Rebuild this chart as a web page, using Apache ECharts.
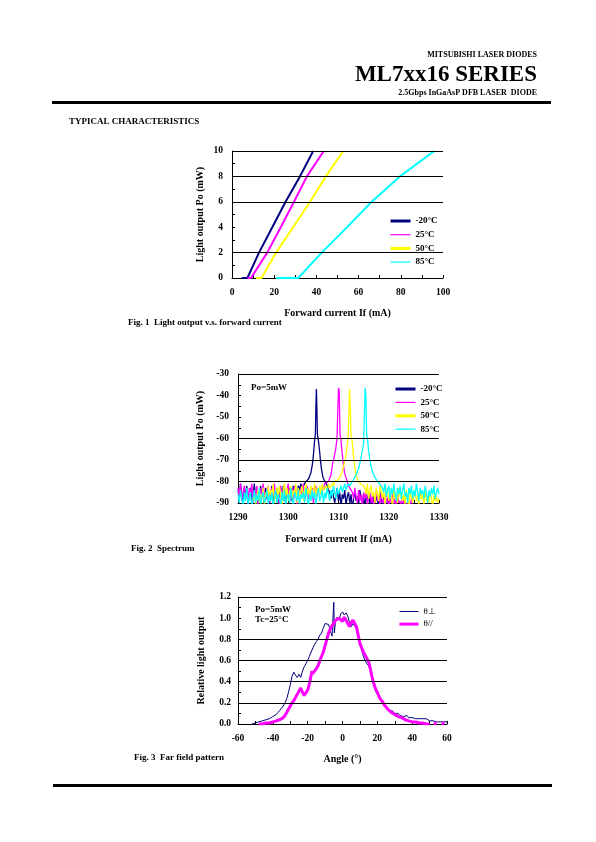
<!DOCTYPE html>
<html><head><meta charset="utf-8">
<script src="https://cdn.jsdelivr.net/npm/echarts@6/dist/echarts.min.js"></script>
<style>html,body{margin:0;padding:0;background:#fff}#c{width:596px;height:842px}</style>
</head><body><div id="c"></div>
<script>
// ---------- Fig. 1 : Light output vs forward current ----------
const tempNames = ['-20°C', '25°C', '50°C', '85°C'];
const tempColors = ['#000080', '#ff00ff', '#ffff00', '#00ffff'];
const fig1XTicks = [0, 100, 20];
const fig1YTicks = [0, 10, 2];
const fig1Grid = [2, 6, 8, 10];
const li_m20 = [[4.6,0],[7.3,0],[12.8,2],[19.1,4],[25.4,6],[32.2,8],[38.5,10]];
const li_25  = [[7.3,0],[9.0,0],[16.7,2],[23.1,4],[29.4,6],[35.5,8],[43.5,10]];
const li_50  = [[11.4,0],[14.0,0],[20.9,2],[29.0,4],[37.0,6],[44.5,8],[52.7,10]];
const li_85  = [[20.9,0],[31.4,0],[42.5,2],[54.5,4],[66.2,6],[79.6,8],[95.9,10]];

// ---------- Fig. 2 : Spectrum ----------
const fig2XTicks = [1290, 1330, 10];
const fig2YTicks = [-90, -30, 10];
const fig2Grid = [-30, -60, -70, -80];
const NOISE_STEP = 0.25;
// -20°C
const sp_m20_startL = 1290;
const sp_m20_noiseL = [-84,-88,-81,-86,-90,-83,-87,-82,-92,-85,-83,-89,-86,-81,-88,-84,-93,-86,-82,-87,-85,-90,-83,-88,-84,-91,-86,-82,-89,-85,-87,-83,-90,-84,-86,-88,-82,-85,-91,-84,-87,-83,-86,-89,-82,-85,-84,-88,-82,-84,-81,-83,-82,-81];
const sp_m20_peak = [[1303.5,-80],[1304,-79],[1304.5,-76],[1304.8,-72],[1305,-68],[1305.2,-62],[1305.4,-58],[1305.5,-45],[1305.6,-37],[1305.7,-46],[1305.8,-58],[1306,-61],[1306.2,-65],[1306.4,-70],[1306.6,-74],[1306.9,-78],[1307.3,-80],[1307.8,-82],[1308,-84]];
const sp_m20_startR = 1308.25;
const sp_m20_noiseR = [-85,-88,-84,-87,-90,-86,-83,-89,-85,-92,-86,-88,-84,-91,-87,-85,-90,-86,-93,-88,-85,-89,-87,-91,-84,-88,-90,-86,-92,-87,-89,-85,-91,-88,-94,-86,-90,-87,-89,-92,-85,-88,-91,-87,-90,-93,-88,-90];
// 25°C
const sp_25_startL = 1290;
const sp_25_noiseL = [-83,-87,-81,-89,-85,-82,-88,-84,-91,-83,-86,-81,-90,-84,-87,-82,-92,-85,-83,-88,-81,-86,-89,-84,-82,-90,-85,-83,-87,-81,-88,-84,-86,-91,-82,-85,-89,-83,-87,-84,-81,-90,-86,-83,-88,-82,-85,-92,-84,-87,-83,-86,-81,-89,-85,-82,-88,-84,-86,-83,-90,-85,-82,-87,-84,-83,-86,-82,-84,-81];
const sp_25_peak = [[1307.5,-81],[1308,-80],[1308.5,-77],[1308.8,-72],[1309.2,-68],[1309.5,-64],[1309.7,-60],[1309.85,-48],[1310,-36.5],[1310.15,-38],[1310.3,-58],[1310.5,-61],[1310.7,-66],[1310.9,-71],[1311.2,-76],[1311.6,-79],[1312,-82],[1312.5,-84]];
const sp_25_startR = 1312.75;
const sp_25_noiseR = [-85,-88,-83,-87,-90,-84,-89,-86,-92,-85,-88,-84,-91,-87,-85,-90,-86,-93,-88,-84,-89,-87,-91,-85,-90,-88,-94,-86,-89,-92,-87,-90,-85,-91,-88,-93,-86,-90,-89,-92,-87,-91,-88,-94,-90,-89,-92,-88,-91,-93];
// 50°C
const sp_50_startL = 1293;
const sp_50_noiseL = [-89,-85,-91,-87,-84,-90,-86,-88,-83,-92,-85,-87,-82,-89,-84,-86,-81,-90,-85,-83,-88,-82,-86,-91,-84,-81,-87,-83,-89,-85,-82,-88,-84,-86,-81,-90,-83,-87,-85,-82,-89,-84,-81,-86,-83,-88,-82,-85,-84,-81,-87,-83,-85,-82,-86,-81,-84,-83,-82,-85,-81,-83,-82,-81,-82,-80];
const sp_50_peak = [[1309.5,-80],[1310,-79],[1310.5,-77],[1311,-73],[1311.4,-69],[1311.7,-64],[1311.9,-60],[1312.05,-50],[1312.2,-37],[1312.35,-45],[1312.5,-59],[1312.7,-61],[1312.9,-66],[1313.1,-71],[1313.4,-76],[1313.8,-79],[1314.3,-81],[1315,-82]];
const sp_50_startR = 1315.25;
const sp_50_noiseR = [-83,-86,-81,-88,-84,-82,-87,-85,-90,-83,-86,-89,-82,-85,-88,-84,-91,-86,-83,-89,-85,-87,-92,-84,-88,-86,-90,-83,-87,-85,-89,-86,-91,-84,-88,-93,-85,-87,-90,-86,-84,-89,-87,-92,-85,-88,-86,-91,-84,-89,-87,-90,-85,-88,-92,-86,-89,-87,-90,-88];
// 85°C
const sp_85_startL = 1290;
const sp_85_noiseL = [-86,-90,-84,-88,-92,-85,-89,-83,-91,-87,-85,-93,-88,-84,-90,-86,-89,-83,-92,-87,-85,-90,-88,-84,-91,-86,-89,-85,-93,-87,-84,-90,-86,-88,-92,-85,-89,-84,-91,-87,-86,-90,-83,-88,-92,-85,-87,-89,-84,-91,-86,-88,-85,-90,-83,-87,-92,-86,-89,-84,-88,-85,-91,-86,-83,-89,-87,-84,-90,-85,-88,-83,-86,-89,-84,-87,-82,-85,-88,-83,-86,-84,-82,-85,-83,-81,-84,-82,-81,-82];
const sp_85_peak = [[1312.5,-81],[1313,-79],[1313.5,-77],[1314,-74],[1314.4,-70],[1314.8,-65],[1315,-62],[1315.15,-50],[1315.3,-36.5],[1315.45,-40],[1315.6,-58],[1315.8,-61],[1316,-66],[1316.3,-71],[1316.7,-75],[1317.2,-78],[1317.8,-80],[1318.5,-82]];
const sp_85_startR = 1318.75;
const sp_85_noiseR = [-83,-85,-81,-87,-84,-82,-88,-83,-86,-81,-85,-89,-83,-86,-82,-88,-84,-81,-87,-85,-90,-83,-86,-82,-88,-84,-87,-81,-85,-89,-83,-86,-84,-88,-82,-85,-90,-84,-87,-83,-86,-82,-88,-85,-83,-86];

// ---------- Fig. 3 : Far field pattern ----------
const ffNames = ['θ⊥', 'θ//'];
const fig3XTicks = [-60, 60, 20];
const fig3YTicks = [0, 1.2, 0.2];
const fig3Grid = [0.2, 0.4, 0.6, 0.8, 1.2];
const ff_perp = [[-52,0],[-51,0],[-50,0.01],[-49,0.01],[-48,0.02],[-47,0.02],[-46,0.03],[-45,0.03],[-44,0.04],[-43,0.04],[-42,0.05],[-41,0.06],[-40,0.07],[-39,0.08],[-38,0.09],[-37,0.11],[-36,0.13],[-35,0.15],[-34,0.17],[-33,0.2],[-32,0.24],[-31,0.3],[-30,0.37],[-29,0.45],[-28,0.49],[-27,0.46],[-26,0.44],[-25,0.47],[-24,0.44],[-23,0.5],[-22,0.54],[-21,0.57],[-20,0.6],[-19,0.64],[-18,0.68],[-17,0.72],[-16,0.75],[-15,0.78],[-14,0.8],[-13,0.84],[-12,0.86],[-11,0.91],[-10,0.95],[-9,0.95],[-8,0.94],[-7,0.88],[-6,0.83],[-5.3,0.84],[-5,1.15],[-4.7,0.86],[-4,0.98],[-3,1.01],[-2,0.99],[-1,1.04],[0,1.06],[1,1.03],[2,1.05],[3,1.02],[4,0.96],[5,0.92],[6,0.95],[7,0.96],[8,0.9],[9,0.84],[10,0.78],[11,0.7],[12,0.64],[13,0.6],[14,0.57],[15,0.55],[16,0.5],[17,0.44],[18,0.37],[19,0.31],[20,0.28],[21,0.25],[22,0.22],[23,0.2],[24,0.18],[25,0.15],[26,0.16],[27,0.13],[28,0.12],[29,0.12],[30,0.1],[31,0.09],[32,0.1],[33,0.08],[34,0.07],[35,0.07],[36,0.06],[37,0.08],[38,0.06],[39,0.07],[40,0.06],[41,0.07],[42,0.05],[43,0.06],[44,0.05],[45,0.06],[46,0.05],[47,0.04],[48,0.05],[49,0.04],[50,0.03],[51,0.04],[52,0.03],[53,0.03],[54,0.02],[55,0.03],[56,0.02],[57,0.03],[58,0.02],[59,0.03],[60,0.02]];
const ff_par = [[-48,0],[-46,0],[-44,0.01],[-42,0.01],[-40,0.02],[-38,0.03],[-36,0.04],[-35,0.05],[-34,0.06],[-33,0.08],[-32,0.11],[-31,0.14],[-30,0.17],[-29,0.2],[-28,0.22],[-27,0.25],[-26,0.28],[-25,0.31],[-24,0.34],[-23,0.3],[-22,0.27],[-21,0.28],[-20,0.32],[-19,0.38],[-18,0.46],[-17.5,0.5],[-17,0.48],[-16,0.5],[-15,0.49],[-14,0.55],[-13,0.6],[-12,0.64],[-11,0.68],[-10,0.74],[-9,0.8],[-8,0.86],[-7,0.9],[-6,0.93],[-5,0.95],[-4,0.98],[-3,0.97],[-2,1.0],[-1,0.99],[0,0.97],[1,1.01],[2,0.98],[3,0.95],[4,0.92],[5,0.96],[6,0.98],[7,0.97],[8,0.92],[9,0.84],[10,0.76],[11,0.72],[12,0.68],[13,0.65],[14,0.62],[15,0.59],[16,0.52],[17,0.44],[18,0.38],[19,0.33],[20,0.3],[21,0.26],[22,0.23],[23,0.21],[24,0.18],[25,0.16],[26,0.14],[27,0.13],[28,0.11],[29,0.1],[30,0.09],[31,0.08],[32,0.07],[33,0.07],[34,0.06],[35,0.05],[36,0.04],[37,0.04],[38,0.03],[39,0.03],[40,0.02],[42,0.02],[44,0.01],[46,0.01],[48,0],[50,0],[51,null],[52.5,0.01],[54,0],[55,null],[57,0.01],[58.5,0]];

// ---------- build ----------
const SERIF = '"Liberation Serif", "Times New Roman", serif';
function spectrum(startL, noiseL, peak, startR, noiseR) {
  const p0 = peak[0][0], p1 = peak[peak.length - 1][0];
  const out = [];
  noiseL.forEach((v, i) => { const x = startL + i * NOISE_STEP; if (x < p0 && x <= 1330) out.push([x, v]); });
  peak.forEach(p => out.push(p));
  noiseR.forEach((v, i) => { const x = startR + i * NOISE_STEP; if (x > p1 && x <= 1330) out.push([x, v]); });
  return out;
}
const spectra = [
  spectrum(sp_m20_startL, sp_m20_noiseL, sp_m20_peak, sp_m20_startR, sp_m20_noiseR),
  spectrum(sp_25_startL, sp_25_noiseL, sp_25_peak, sp_25_startR, sp_25_noiseR),
  spectrum(sp_50_startL, sp_50_noiseL, sp_50_peak, sp_50_startR, sp_50_noiseR),
  spectrum(sp_85_startL, sp_85_noiseL, sp_85_peak, sp_85_startR, sp_85_noiseR)
];
const liCurves = [li_m20, li_25, li_50, li_85];

const labelStyle = { color: '#000', fontFamily: SERIF, fontWeight: 'bold', fontSize: 9.5 };
const nameStyle = { color: '#000', fontFamily: SERIF, fontWeight: 'bold', fontSize: 10 };
function axis(gi, ticks, name, gap, margin, fmt) {
  return {
    type: 'value', gridIndex: gi, min: ticks[0], max: ticks[1], interval: ticks[2],
    name: name, nameLocation: 'middle', nameGap: gap, nameTextStyle: nameStyle,
    axisLine: { show: true, onZero: false, lineStyle: { color: '#000', width: 1 } },
    axisTick: { show: true, inside: true, length: 3, lineStyle: { color: '#000' } },
    minorTick: { show: true, splitNumber: 2, length: 3, lineStyle: { color: '#000' } },
    splitLine: { show: false },
    axisLabel: Object.assign({ margin: margin, formatter: fmt || (v => String(v)) }, labelStyle)
  };
}
function gridLines(vals) {
  return { silent: true, symbol: 'none', animation: false, label: { show: false },
    lineStyle: { color: '#000', width: 1, type: 'solid' },
    data: vals.map(v => ({ yAxis: v })) };
}

const series = [];
liCurves.forEach((d, i) => series.push({
  type: 'line', name: tempNames[i], xAxisIndex: 0, yAxisIndex: 0, data: d,
  symbol: 'none', lineStyle: { color: tempColors[i], width: 2 }, itemStyle: { color: tempColors[i] },
  markLine: i === 0 ? gridLines(fig1Grid) : undefined
}));
spectra.forEach((d, i) => series.push({
  type: 'line', name: tempNames[i], xAxisIndex: 1, yAxisIndex: 1, data: d,
  symbol: 'none', clip: true, lineStyle: { color: tempColors[i], width: 1.3 }, itemStyle: { color: tempColors[i] },
  markLine: i === 0 ? gridLines(fig2Grid) : undefined
}));
series.push({
  type: 'line', name: ffNames[0], xAxisIndex: 2, yAxisIndex: 2, data: ff_perp,
  symbol: 'none', lineStyle: { color: '#000080', width: 1 }, itemStyle: { color: '#000080' },
  markLine: gridLines(fig3Grid)
});
series.push({
  type: 'line', name: ffNames[1], xAxisIndex: 2, yAxisIndex: 2, data: ff_par,
  symbol: 'none', connectNulls: false, lineStyle: { color: '#ff00ff', width: 3 }, itemStyle: { color: '#ff00ff' }
});

const legText = { color: '#000', fontFamily: SERIF, fontWeight: 'bold', fontSize: 9, lineHeight: 10 };
const thick = [3, 1.2, 3, 1.2];
const hiddenSymbol = { opacity: 0, borderWidth: 0 };
function tempLegend(left, top, gap, bg, pad) {
  return {
    orient: 'vertical', left: left, top: top, itemWidth: 20, itemHeight: 10, itemGap: gap,
    selectedMode: false, backgroundColor: bg, padding: pad, textStyle: legText,
    itemStyle: hiddenSymbol,
    data: tempNames.map((n, i) => ({ name: n, lineStyle: { width: thick[i] }, itemStyle: hiddenSymbol }))
  };
}

function txt(x, y, s, font, align) {
  return { type: 'text', x: x, y: y, silent: true,
    style: { text: s, font: font, fill: '#000', textAlign: align || 'left', textVerticalAlign: 'middle' } };
}

const option = {
  animation: false,
  backgroundColor: '#fff',
  grid: [
    { left: 232, top: 151, width: 211, height: 127 },
    { left: 238, top: 374, width: 201, height: 129 },
    { left: 238, top: 597, width: 209, height: 127 }
  ],
  xAxis: [
    axis(0, fig1XTicks, 'Forward current If (mA)', 30, 10),
    axis(1, fig2XTicks, 'Forward current If (mA)', 31, 10),
    axis(2, fig3XTicks, 'Angle (°)', 30, 10)
  ],
  yAxis: [
    axis(0, fig1YTicks, 'Light output Po (mW)', 27, 9),
    axis(1, fig2YTicks, 'Light output Po (mW)', 33, 9),
    axis(2, fig3YTicks, 'Relative light output', 32, 7, v => v.toFixed(1))
  ],
  legend: [
    tempLegend(384, 214, 3.7, '#fff', [2, 4, 2, 5]),
    tempLegend(394, 384, 3.4, 'transparent', 0),
    {
      orient: 'vertical', left: 398, top: 607, itemWidth: 19, itemHeight: 8, itemGap: 3.6,
      selectedMode: false, padding: 0, itemStyle: hiddenSymbol,
      textStyle: { color: '#000', fontFamily: SERIF, fontSize: 9, lineHeight: 8 },
      data: [{ name: ffNames[0], lineStyle: { width: 1 }, itemStyle: hiddenSymbol },
             { name: ffNames[1], lineStyle: { width: 3 }, itemStyle: hiddenSymbol }]
    }
  ],
  graphic: [
    txt(537, 55, 'MITSUBISHI LASER DIODES', 'bold 8px ' + SERIF, 'right'),
    txt(537, 75, 'ML7xx16 SERIES', 'bold 23px ' + SERIF, 'right'),
    txt(537, 93, '2.5Gbps InGaAsP DFB LASER  DIODE', 'bold 8px ' + SERIF, 'right'),
    { type: 'rect', silent: true, shape: { x: 52, y: 101, width: 499, height: 3 }, style: { fill: '#000' } },
    txt(69, 122, 'TYPICAL CHARACTERISTICS', 'bold 9px ' + SERIF),
    txt(128, 323, 'Fig. 1  Light output v.s. forward current', 'bold 9px ' + SERIF),
    txt(251, 388, 'Po=5mW', 'bold 9px ' + SERIF),
    txt(131, 549, 'Fig. 2  Spectrum', 'bold 9px ' + SERIF),
    txt(255, 610, 'Po=5mW', 'bold 9px ' + SERIF),
    txt(255, 620, 'Tc=25°C', 'bold 9px ' + SERIF),
    txt(134, 758, 'Fig. 3  Far field pattern', 'bold 9px ' + SERIF),
    { type: 'rect', silent: true, shape: { x: 53, y: 784, width: 499, height: 3 }, style: { fill: '#000' } }
  ],
  series: series
};
const chart = echarts.init(document.getElementById('c'), null, { renderer: 'canvas' });
chart.setOption(option);
</script></body></html>
